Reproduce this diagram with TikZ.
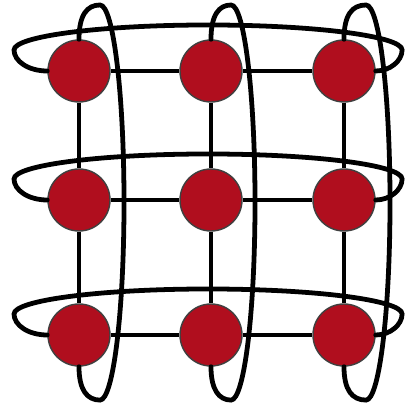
\documentclass[tikz,border=0pt]{standalone}
\definecolor{siteRed}{RGB}{176,14,30}
\tikzset{
  site/.style={circle, fill=siteRed, draw=black!75, line width=1pt, minimum size=1.55cm, inner sep=0pt},
  link/.style={line width=3.4pt},
  ring/.style={line width=3.4pt, line cap=round}
}
\begin{document}
\begin{tikzpicture}[x=0.025cm, y=0.025cm]
    \useasboundingbox (0,0) rectangle (406,405);

    % sites
    \node[site] (s11) at (79,334) {};
    \node[site] (s12) at (211,334) {};
    \node[site] (s13) at (344,334) {};
    \node[site] (s21) at (79,205) {};
    \node[site] (s22) at (211,205) {};
    \node[site] (s23) at (344,205) {};
    \node[site] (s31) at (79,70) {};
    \node[site] (s32) at (211,70) {};
    \node[site] (s33) at (344,70) {};

    % bonds
    \draw[link] (s11) -- (s12);
    \draw[link] (s12) -- (s13);
    \draw[link] (s21) -- (s22);
    \draw[link] (s22) -- (s23);
    \draw[link] (s31) -- (s32);
    \draw[link] (s32) -- (s33);
    \draw[link] (s11) -- (s21);
    \draw[link] (s21) -- (s31);
    \draw[link] (s12) -- (s22);
    \draw[link] (s22) -- (s32);
    \draw[link] (s13) -- (s23);
    \draw[link] (s23) -- (s33);

    % row loops
    \draw[ring] (s11.west) .. controls (28,334) and (14,344) .. (14,355)
        arc[start angle=180, end angle=0, x radius=4.85cm, y radius=0.625cm]
        .. controls (402,344) and (390,334) .. (s13.east);
    \draw[ring] (s21.west) .. controls (28,205) and (14,215) .. (14,226)
        arc[start angle=180, end angle=0, x radius=4.85cm, y radius=0.625cm]
        .. controls (402,215) and (390,205) .. (s23.east);
    \draw[ring] (s31.west) .. controls (28,70) and (14,80) .. (14,91)
        arc[start angle=180, end angle=0, x radius=4.85cm, y radius=0.625cm]
        .. controls (402,80) and (390,70) .. (s33.east);

    % column loops
    \draw[ring] (s11.north) .. controls (79,390) and (87,400) .. (100,400)
        arc[start angle=90, end angle=-90, x radius=0.6cm, y radius=4.9375cm]
        .. controls (87,5) and (79,15) .. (s31.south);
    \draw[ring] (s12.north) .. controls (211,390) and (219,400) .. (231,400)
        arc[start angle=90, end angle=-90, x radius=0.6cm, y radius=4.9375cm]
        .. controls (219,5) and (211,15) .. (s32.south);
    \draw[ring] (s13.north) .. controls (344,390) and (352,400) .. (366,400)
        arc[start angle=90, end angle=-90, x radius=0.6cm, y radius=4.9375cm]
        .. controls (352,5) and (344,15) .. (s33.south);
\end{tikzpicture}
\end{document}
